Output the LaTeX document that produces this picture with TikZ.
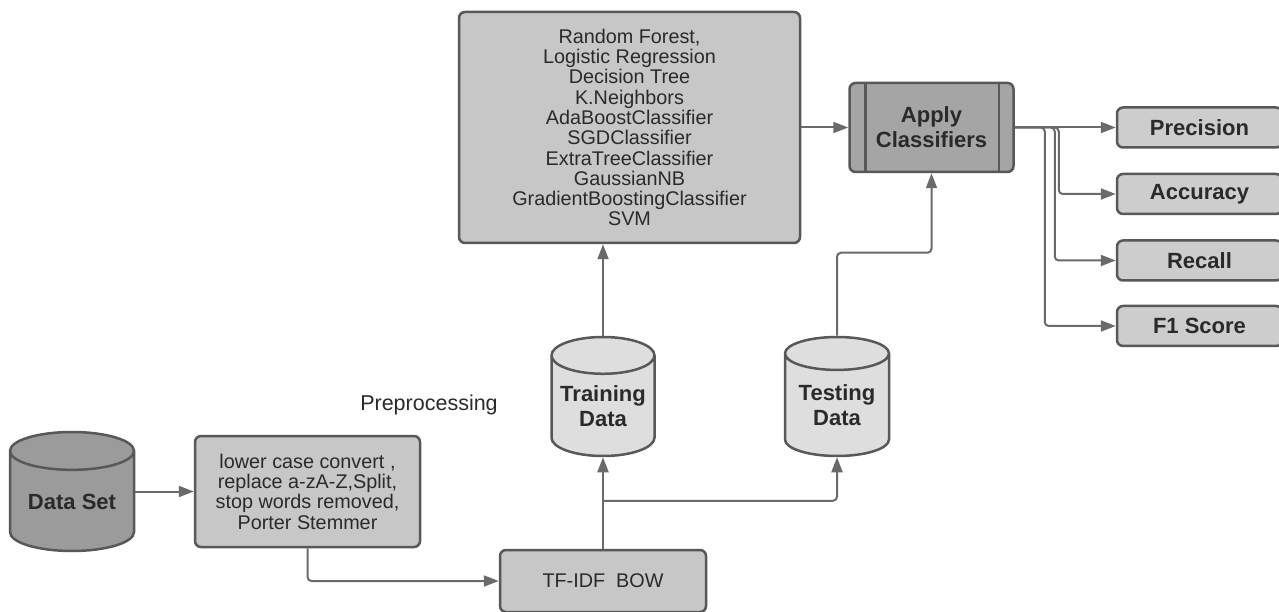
\documentclass[tikz,border=0pt]{standalone}
\usepackage{fontspec}
\setmainfont{Liberation Sans}
\usepackage{xcolor}
\usepackage{tikz}
\usetikzlibrary{arrows.meta,calc,positioning,shapes.geometric}
\definecolor{FlowGray}{HTML}{6A6A6A}
\definecolor{EdgeGray}{HTML}{585858}
\definecolor{TextInk}{HTML}{2A2A2A}
\definecolor{DataFill}{HTML}{9B9B9B}
\definecolor{ApplyFill}{HTML}{A5A5A5}
\definecolor{StepFill}{HTML}{C7C7C7}
\definecolor{SplitFill}{HTML}{DEDEDE}
\definecolor{ScoreFill}{HTML}{CDCDCD}
\tikzset{
  >={Triangle[length=15pt,width=11pt]},
  flow/.style={->,line width=2pt,draw=FlowGray,rounded corners=4pt},
  stepbox/.style={draw=EdgeGray,line width=2.5pt,fill=StepFill,rounded corners=6pt,
    align=center,text=TextInk,inner sep=0pt,font=\fontsize{19.8}{20.3}\selectfont},
  store/.style={cylinder,shape border rotate=90,aspect=0.43,draw=EdgeGray,line width=2.5pt,
    anchor=shape center,align=center,text=TextInk,inner sep=0pt,
    font=\fontsize{22}{25}\selectfont\bfseries},
  scorebox/.style={draw=EdgeGray,line width=2.5pt,fill=ScoreFill,rounded corners=6pt,
    minimum width=165pt,minimum height=40pt,inner sep=0pt,text=TextInk,
    font=\fontsize{22}{25}\selectfont\bfseries},
  divider/.style={draw=EdgeGray,line width=2.5pt}
}

\begin{document}
\begin{tikzpicture}[x=1pt,y=1pt]
  \useasboundingbox (0,0) rectangle (1279,611);
  \node[store,fill=DataFill,minimum width=124pt,minimum height=119pt] (dataset) at (72,119.5) {Data Set};
  \node[stepbox,minimum width=225pt,minimum height=111pt] (prep) at (307.5,119.5) {lower case convert ,\\replace a-zA-Z,Split,\\stop words removed,\\Porter Stemmer};
  \node[text=TextInk,font=\fontsize{21.5}{24}\selectfont] (preplabel) at (429,206) {Preprocessing};
  \node[stepbox,minimum width=206pt,minimum height=62pt] (tfidf) at (603,30) {TF-IDF\ \ BOW};
  \node[store,fill=SplitFill,minimum width=103pt,minimum height=119pt] (train) at (603,214.5) {Training\\Data};
  \node[store,fill=SplitFill,minimum width=104pt,minimum height=119pt] (test) at (837,214.5) {Testing\\Data};
  \node[stepbox,minimum width=341pt,minimum height=231pt] (models) at (629.5,483.5) {Random Forest,\\Logistic Regression\\Decision Tree\\K.Neighbors\\AdaBoostClassifier\\SGDClassifier\\ExtraTreeClassifier\\GaussianNB\\GradientBoostingClassifier\\SVM};
  \node[stepbox,fill=ApplyFill,minimum width=164pt,minimum height=89pt,
    font=\fontsize{22}{25}\selectfont\bfseries,right=47pt of models] (apply) {Apply\\Classifiers};
  \draw[divider] ($(apply.north west)+(17pt,0)$) -- ($(apply.south west)+(17pt,0)$);
  \draw[divider] ($(apply.north east)+(-16pt,0)$) -- ($(apply.south east)+(-16pt,0)$);
  \node[scorebox,right=101pt of apply] (prec) {Precision};
  \node[scorebox,below=24pt of prec] (acc) {Accuracy};
  \node[scorebox,below=24pt of acc] (rec) {Recall};
  \node[scorebox,below=23pt of rec] (fone) {F1 Score};
  \coordinate (split) at ($(tfidf.north)+(0,48pt)$);
  \draw[flow] (dataset.east |- prep.west) -- (prep.west);
  \draw[flow] (prep.south) |- (tfidf.west);
  \draw[flow] (tfidf.north) -- (train.south);
  \draw[flow] (split) -| (test.south);
  \draw[flow] (train.north) -- (train.north |- models.south);
  \draw[flow] (test.north) -- ++(0,83pt) -| (apply.south);
  \draw[flow] (models) -- (apply);
  \draw[flow] (apply.east) -- (prec.west);
  \draw[flow] (apply.east) -- ++(44pt,0) |- (acc.west);
  \draw[flow] (apply.east) -- ++(40pt,0) |- (rec.west);
  \draw[flow] (apply.east) -- ++(30pt,0) |- (fone.west);
\end{tikzpicture}
\end{document}
